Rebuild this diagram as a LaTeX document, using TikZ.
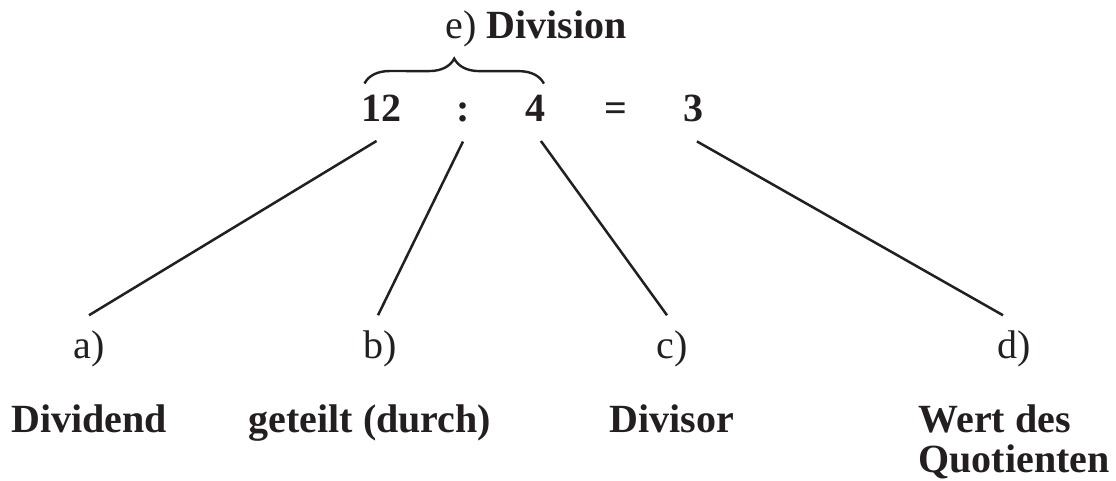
\documentclass[tikz,border=0pt]{standalone}
\usepackage{fontspec}
\setmainfont{Liberation Serif}
\usepackage{xcolor}
\usetikzlibrary{positioning,decorations.pathreplacing}

\definecolor{ink}{HTML}{231F20}
\newcommand{\gross}{\fontsize{40}{40}\selectfont}

\begin{document}
\begin{tikzpicture}[
    x=1pt, y=1pt,
    zahl/.style={font=\gross\bfseries, text=ink, inner sep=0pt, outer sep=0pt, outer ysep=19pt, anchor=base},
    marke/.style={font=\gross, text=ink, inner sep=0pt, outer sep=0pt, outer ysep=15pt, anchor=base},
    begriff/.style={font=\gross\bfseries, text=ink, inner sep=0pt, align=left},
    linie/.style={draw=ink, line width=2.5pt},
    klammer/.style={draw=ink, line width=2.4pt, decorate, decoration={brace, amplitude=25pt}}
]
\useasboundingbox (0,0) rectangle (1116,480);

% Equation row
\node[zahl] (n12) at (381.5,358) {12};
\node[zahl, base right=54.8pt of n12] (geteilt) {:};
\node[zahl, base right=56.3pt of geteilt] (n4) {4};
\node[zahl, base right=58.6pt of n4] (gleich) {=};
\node[zahl, base right=56.6pt of gleich] (n3) {3};

% Brace and its label
\draw[klammer] ([xshift=3pt, yshift=-7pt]n12.north west) -- ([xshift=-2pt, yshift=-7pt]n4.north east);
\node[font=\gross, text=ink, inner sep=0pt, above=29pt of n4] (division) {e) \textbf{Division}};

% Letters
\node[marke] (la) at (89,122) {a)};
\node[marke] (lb) at (380,122) {b)};
\node[marke] (lc) at (672,122) {c)};
\node[marke] (ld) at (1014,122) {d)};

% Terms
\node[begriff, below=23pt of la] (dividend) {Dividend};
\node[begriff, below=23pt of lb, xshift=-10pt] (durch) {geteilt (durch)};
\node[begriff, below=23pt of lc] (divisor) {Divisor};
\node[begriff, below=23pt of ld] (quotient) {Wert des\\Quotienten};

% Lines
\draw[linie] ([xshift=-5pt]n12.south) -- (la.north);
\draw[linie] (geteilt.south) -- ([xshift=-2pt]lb.north);
\draw[linie] ([xshift=5pt]n4.south) -- ([xshift=-5pt]lc.north);
\draw[linie] ([xshift=3pt]n3.south) -- ([xshift=-11pt]ld.north);

\end{tikzpicture}
\end{document}
